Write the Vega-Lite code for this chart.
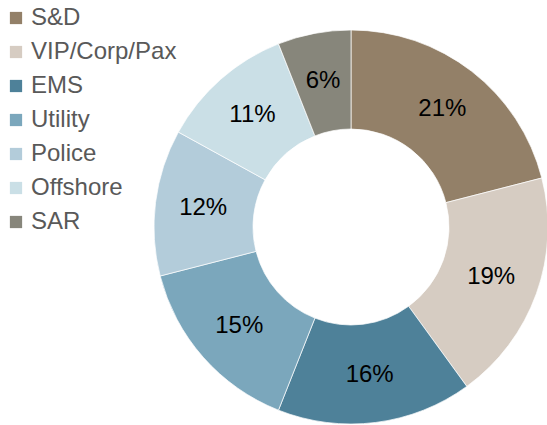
{
  "$schema": "https://vega.github.io/schema/vega-lite/v6.json",
  "width": 396,
  "height": 396,
  "autosize": {"type": "none"},
  "padding": {"left": 153, "top": 29, "right": 0, "bottom": 0},
  "background": "white",
  "config": {"view": {"stroke": null}, "font": "Liberation Sans"},
  "data": {"values": [
    {"segment": "S&D", "share": 0.21, "rank": 1},
    {"segment": "VIP/Corp/Pax", "share": 0.19, "rank": 2},
    {"segment": "EMS", "share": 0.16, "rank": 3},
    {"segment": "Utility", "share": 0.15, "rank": 4},
    {"segment": "Police", "share": 0.12, "rank": 5},
    {"segment": "Offshore", "share": 0.11, "rank": 6},
    {"segment": "SAR", "share": 0.06, "rank": 7}
  ]},
  "encoding": {
    "theta": {"field": "share", "type": "quantitative", "stack": true},
    "order": {"field": "rank", "type": "quantitative"}
  },
  "layer": [
    {
      "mark": {"type": "arc", "innerRadius": 98, "outerRadius": 197, "stroke": "#ffffff", "strokeWidth": 0.7},
      "encoding": {
        "color": {
          "field": "segment", "type": "nominal",
          "scale": {
            "domain": ["S&D", "VIP/Corp/Pax", "EMS", "Utility", "Police", "Offshore", "SAR"],
            "range": ["#938068", "#D6CCC2", "#4E8199", "#7BA7BC", "#B3CCDA", "#CADFE6", "#87867B"]
          },
          "legend": {
            "title": null,
            "orient": "none",
            "legendX": -149,
            "legendY": -23,
            "symbolType": "square",
            "symbolSize": 150,
            "symbolStrokeWidth": 0,
            "labelFontSize": 24,
            "labelColor": "#595959",
            "labelFont": "Liberation Sans",
            "labelOffset": 3,
            "rowPadding": 10,
            "labelLimit": 300
          }
        }
      }
    },
    {
      "mark": {"type": "text", "radius": 149, "fontSize": 24, "color": "#000000", "font": "Liberation Sans"},
      "encoding": {
        "text": {"field": "share", "type": "quantitative", "format": ".0%"}
      }
    }
  ]
}
